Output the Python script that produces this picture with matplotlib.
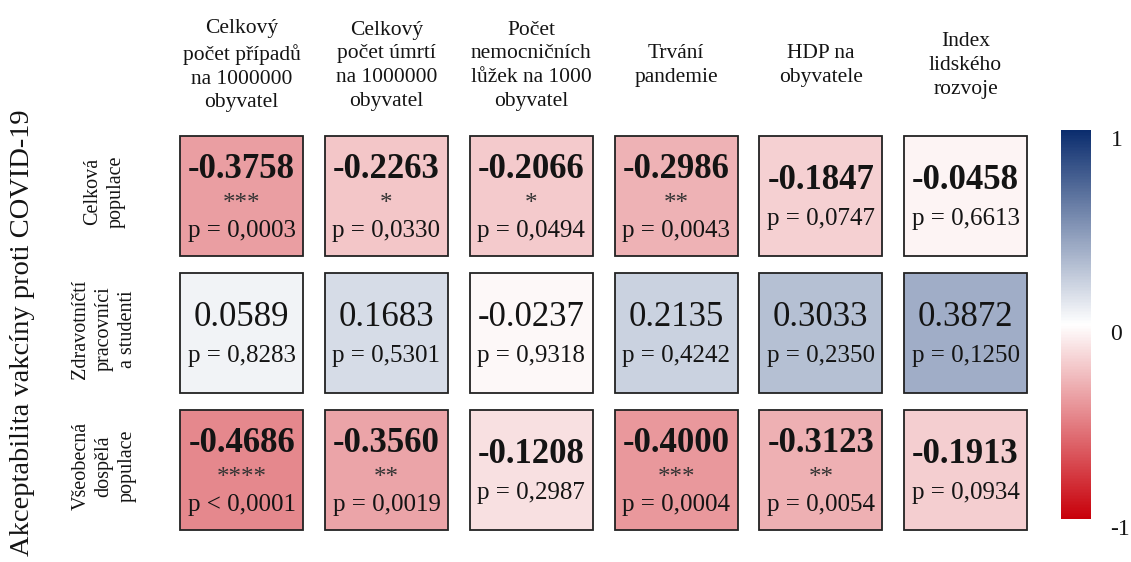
import matplotlib
matplotlib.use("Agg")
import matplotlib.pyplot as plt
import numpy as np
from matplotlib.colors import LinearSegmentedColormap, Normalize
from matplotlib.patches import Rectangle
from matplotlib.colorbar import ColorbarBase

plt.rcParams['font.family'] = ['Liberation Serif', 'DejaVu Serif']

columns = [
    "Celkový\npočet případů\nna 1000000\nobyvatel",
    "Celkový\npočet úmrtí\nna 1000000\nobyvatel",
    "Počet\nnemocničních\nlůžek na 1000\nobyvatel",
    "Trvání\npandemie",
    "HDP na\nobyvatele",
    "Index\nlidského\nrozvoje",
]
rows = [
    "Celková\npopulace",
    "Zdravotníčtí\npracovníci\na studenti",
    "Všeobecná\ndospělá\npopulace",
]
ylabel = "Akceptabilita vakcíny proti COVID-19"

r_values = [
    [-0.3758, -0.2263, -0.2066, -0.2986, -0.1847, -0.0458],
    [0.0589, 0.1683, -0.0237, 0.2135, 0.3033, 0.3872],
    [-0.4686, -0.3560, -0.1208, -0.4000, -0.3123, -0.1913],
]
p_labels = [
    ["p = 0,0003", "p = 0,0330", "p = 0,0494", "p = 0,0043", "p = 0,0747", "p = 0,6613"],
    ["p = 0,8283", "p = 0,5301", "p = 0,9318", "p = 0,4242", "p = 0,2350", "p = 0,1250"],
    ["p < 0,0001", "p = 0,0019", "p = 0,2987", "p = 0,0004", "p = 0,0054", "p = 0,0934"],
]
stars = [
    ["***", "*", "*", "**", "", ""],
    ["", "", "", "", "", ""],
    ["****", "**", "", "***", "**", ""],
]
bold_rows = [True, False, True]

cmap = LinearSegmentedColormap.from_list(
    "rwb", ["#C8000A", "#FFFFFF", "#0B2D6E"])
norm = Normalize(vmin=-1, vmax=1)

W, H = 1131, 562
fig = plt.figure(figsize=(W / 100, H / 100), dpi=100)
ax = fig.add_axes([169.3 / W, 1 - 538.5 / H, (1038 - 169.3) / W, (538.5 - 127.5) / H])
ax.set_xlim(-0.5, 5.5)
ax.set_ylim(2.5, -0.5)
ax.axis("off")

txt = "#141414"
bw, bh = 0.85, 0.88
for i in range(len(rows)):
    for j in range(len(columns)):
        v = r_values[i][j]
        ax.add_patch(Rectangle((j - bw / 2, i - bh / 2), bw, bh,
                               facecolor=cmap(norm(v)), edgecolor="#222222",
                               linewidth=1.3))
        weight = "bold" if bold_rows[i] else "normal"
        if stars[i][j]:
            ax.text(j, i - 0.19, f"{v:.4f}", ha="center", va="center",
                    fontsize=25, fontweight=weight, color=txt)
            ax.text(j, i + 0.06, stars[i][j], ha="center", va="center",
                    fontsize=18, color="#333333")
            ax.text(j, i + 0.255, p_labels[i][j], ha="center", va="center",
                    fontsize=18, color=txt)
        else:
            ax.text(j, i - 0.11, f"{v:.4f}", ha="center", va="center",
                    fontsize=25, fontweight=weight, color=txt)
            ax.text(j, i + 0.17, p_labels[i][j], ha="center", va="center",
                    fontsize=18, color=txt)

for j, lab in enumerate(columns):
    ax.text(j, -0.95, lab, ha="center", va="center", fontsize=15.5,
            linespacing=1.35, color=txt, clip_on=False)

for i, lab in enumerate(rows):
    ax.text(-0.95, i - 0.03, lab, ha="center", va="center", rotation=90,
            fontsize=14.5, linespacing=1.3, color=txt, clip_on=False)

fig.text(23 / W, 1 - 333 / H, ylabel, rotation=90, ha="center", va="center",
         fontsize=20.5, color=txt)

cax = fig.add_axes([1061 / W, 1 - 519 / H, 30 / W, 389 / H])
cb = ColorbarBase(cax, cmap=cmap, norm=norm, orientation="vertical")
cb.set_ticks([-1, 0, 1])
cb.set_ticklabels(["-1", "0", "1"])
cb.outline.set_visible(False)
cax.tick_params(length=0, labelsize=17, pad=14, labelcolor=txt)
for lbl in cax.get_yticklabels():
    lbl.set_verticalalignment("top")

fig.savefig("out.png", dpi=100, facecolor="white")
